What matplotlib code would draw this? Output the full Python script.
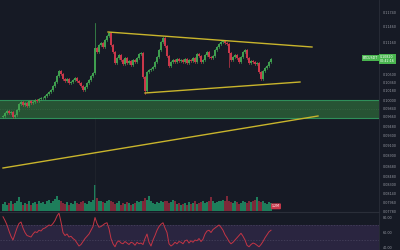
import numpy as np
import matplotlib
matplotlib.use("Agg")
import matplotlib.pyplot as plt
from matplotlib.patches import Rectangle

# closing prices, one per candle
closes = [0.0968, 0.0974, 0.0978, 0.0974, 0.0976, 0.0966, 0.0970, 0.0980, 0.0992, 0.0996,
          0.0990, 0.0994, 0.0988, 0.0998, 0.0994, 0.0996, 0.1000, 0.0998, 0.1002, 0.1004,
          0.1004, 0.1008, 0.1012, 0.1016, 0.1020, 0.1028, 0.1036, 0.1048, 0.1058, 0.1052,
          0.1042, 0.1038, 0.1042, 0.1034, 0.1036, 0.1040, 0.1044, 0.1038, 0.1034, 0.1028,
          0.1020, 0.1026, 0.1034, 0.1040, 0.1048, 0.1054, 0.1104, 0.1096, 0.1110, 0.1114,
          0.1106, 0.1120, 0.1128, 0.1134, 0.1110, 0.1096, 0.1074, 0.1084, 0.1090, 0.1080,
          0.1072, 0.1084, 0.1074, 0.1078, 0.1070, 0.1080, 0.1076, 0.1084, 0.1092, 0.1094,
          0.1046, 0.1018, 0.1056, 0.1060, 0.1062, 0.1066, 0.1076, 0.1086, 0.1100, 0.1116,
          0.1124, 0.1108, 0.1088, 0.1068, 0.1076, 0.1080, 0.1076, 0.1082, 0.1078, 0.1080,
          0.1076, 0.1082, 0.1074, 0.1080, 0.1078, 0.1084, 0.1076, 0.1092, 0.1088, 0.1076,
          0.1080, 0.1090, 0.1096, 0.1086, 0.1084, 0.1088, 0.1100, 0.1106, 0.1112, 0.1116,
          0.1118, 0.1114, 0.1112, 0.1094, 0.1080, 0.1086, 0.1090, 0.1084, 0.1076, 0.1086,
          0.1096, 0.1100, 0.1084, 0.1074, 0.1078, 0.1076, 0.1072, 0.1074, 0.1056, 0.1042,
          0.1058, 0.1064, 0.1068, 0.1076, 0.1082]
first_open = 0.0966
spike_highs = {46: 0.1154, 113: 0.1066, 71: 0.1012}

volumes = [9, 11, 8, 10, 12, 9, 10, 13, 17, 11,
           8, 10, 9, 12, 8, 10, 11, 9, 13, 10,
           11, 9, 12, 14, 10, 13, 15, 19, 14, 12,
           10, 9, 11, 8, 10, 9, 12, 10, 9, 11,
           13, 10, 9, 12, 11, 14, 32, 16, 12, 13,
           11, 10, 12, 14, 13, 11, 9, 10, 12, 8,
           10, 9, 11, 10, 8, 9, 10, 12, 11, 13,
           12, 16, 14, 19, 12, 10, 9, 11, 10, 12,
           11, 13, 12, 10, 11, 14, 12, 9, 10, 8,
           9, 10, 8, 11, 9, 10, 12, 9, 10, 11,
           12, 10, 11, 13, 17, 12, 10, 11, 13, 12,
           14, 12, 19, 13, 11, 10, 12, 11, 9, 10,
           12, 11, 10, 13, 11, 12, 14, 18, 13, 11,
           12, 10, 9, 11, 10]

rsi = [81, 76, 70, 62, 55, 50, 58, 66, 72, 74,
       66, 60, 56, 55, 54, 58, 61, 60, 63, 62,
       65, 66, 68, 70, 69, 72, 76, 82, 86, 74,
       60, 56, 58, 54, 55, 52, 50, 46, 42, 44,
       48, 52, 55, 58, 63, 68, 80, 72, 67, 68,
       70, 72, 73, 65, 52, 45, 41, 47, 49, 46,
       45, 48, 46, 44, 47, 46, 43, 47, 45, 46,
       44, 52, 58, 47, 42, 50, 56, 63, 68, 71,
       73, 66, 60, 45, 42, 44, 47, 45, 48, 47,
       45, 49, 50, 46, 49, 47, 50, 49, 52, 48,
       51, 58, 62, 63, 60, 64, 66, 68, 70, 67,
       63, 57, 53, 48, 45, 47, 50, 53, 56, 59,
       55, 50, 43, 41, 44, 46, 45, 43, 41, 44,
       48, 53, 57, 61, 63]

# trend lines: (x0, p0, x1, p1)
upper_line = (52.5, 0.1136, 154.5, 0.1106)
lower_line = (71, 0.1014, 148.5, 0.1036)
long_line = (0, 0.0864, 157.5, 0.0968)
zone = (0.0964, 0.1000)
price_ticks = [0.1174, 0.1146, 0.1116, 0.1050, 0.1036, 0.1018, 0.1000, 0.0984, 0.0966,
               0.0948, 0.0930, 0.0910, 0.0890, 0.0868, 0.0848, 0.0830, 0.0814, 0.0796, 0.0778]

bg = "#161a25"
green = "#3f9f4f"
red = "#c9384a"
yellow = "#c9b52c"
XMAX = 188

n = len(closes)
assert len(volumes) == n and len(rsi) == n, (n, len(volumes), len(rsi))
opens = [first_open] + closes[:-1]

fig = plt.figure(figsize=(4, 2.5), dpi=100, facecolor=bg)
ax = fig.add_axes([0, 0.152, 0.9475, 0.848], facecolor=bg)
axv = ax.twinx()
ax.set_zorder(axv.get_zorder() + 1)
ax.patch.set_visible(False)
axv.set_facecolor(bg)
axr = fig.add_axes([0, 0, 0.9475, 0.148], facecolor=bg)

# volume
vcol = ["#1f8a62" if c >= o else "#8a2a3c" for o, c in zip(opens, closes)]
axv.bar(range(n), volumes, width=0.6, color=vcol, alpha=0.9, lw=0)
axv.set_ylim(-1, 260)
axv.set_xlim(-1.5, XMAX)
axv.axis("off")

# zone
ax.axhspan(zone[0], zone[1], color="#2a5a36", alpha=0.9, lw=0)
ax.axhline(zone[0], color="#2f8f5a", lw=0.8)
ax.axhline(zone[1], color="#2f8f5a", lw=0.8)
ax.axhline(sum(zone) / 2, color="#4a7a55", lw=0.4, ls=(0, (1, 3)))
ax.axvline(46, color="#22262f", lw=0.5, ymin=0, ymax=0.45, zorder=0)

# candles
for i in range(n):
    o, c = opens[i], closes[i]
    col = green if c >= o else red
    hi = max(o, c) + 0.00025
    lo = min(o, c) - 0.00025
    if i in spike_highs:
        if spike_highs[i] > hi:
            hi = spike_highs[i]
        else:
            lo = spike_highs[i]
    ax.plot([i, i], [lo, hi], color=col, lw=0.5, zorder=3)
    ax.add_patch(Rectangle((i - 0.35, min(o, c)), 0.7, max(abs(c - o), 0.00008),
                           color=col, lw=0, zorder=3))

for x0, p0, x1, p1 in (upper_line, lower_line, long_line):
    ax.plot([x0, x1], [p0, p1], color=yellow, lw=1.0, zorder=4)

ax.set_xlim(-1.5, XMAX)
ax.set_ylim(0.0776, 0.12)
ax.yaxis.tick_right()
ax.set_yticks(price_ticks)
ax.set_yticklabels(["%.5f" % t for t in price_ticks])
ax.tick_params(axis="y", length=0, pad=3, labelsize=2.4, labelcolor="#9598a1")
ax.set_xticks([])
for s in ax.spines.values():
    s.set_visible(False)
ax.spines["right"].set_visible(True)
ax.spines["right"].set_color("#2a2e39")
ax.spines["right"].set_linewidth(0.6)
ax.spines["bottom"].set_visible(True)
ax.spines["bottom"].set_color("#2a2e39")

# last price labels
last = closes[-1]
ax.text(180, last + 0.0002, "BTCUSDT", fontsize=2.3, color="white", va="center", ha="left",
        bbox=dict(boxstyle="square,pad=0.3", fc="#49b54f", ec="none"), zorder=6)
ax.text(1.003, (last - 0.0776) / (0.12 - 0.0776), "0.10820\n00:42:16", fontsize=2.3,
        color="white", va="center", ha="left", transform=ax.transAxes, clip_on=False,
        bbox=dict(boxstyle="square,pad=0.35", fc="#49b54f", ec="none"), zorder=6)
axv.text(134.5, 6, "1.2M", fontsize=2.3, color="white", va="center", ha="left",
         bbox=dict(boxstyle="round,pad=0.3", fc="#c9384a", ec="none"), zorder=6)

# RSI
axr.axhspan(30, 70, color="#2a2540", lw=0)
axr.axhline(70, color="#4a4560", lw=0.5, ls=(0, (2, 2)))
axr.axhline(50, color="#4a4560", lw=0.5, ls=(0, (2, 2)))
axr.plot(range(n), rsi, color="#c43545", lw=0.7)
axr.set_xlim(-1.5, XMAX)
axr.set_ylim(36.7, 86)
axr.yaxis.tick_right()
axr.set_yticks([80, 60, 40])
axr.set_yticklabels(["80.00", "60.00", "40.00"])
axr.tick_params(axis="y", length=0, pad=3, labelsize=2.4, labelcolor="#9598a1")
axr.set_xticks([])
for s in axr.spines.values():
    s.set_visible(False)
axr.spines["right"].set_visible(True)
axr.spines["right"].set_color("#2a2e39")
axr.spines["right"].set_linewidth(0.6)

fig.savefig("out.png", dpi=100, facecolor=bg)
